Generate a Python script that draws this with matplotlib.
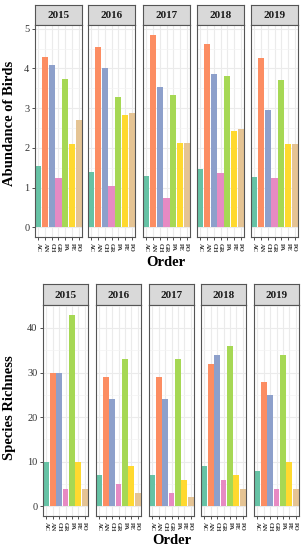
import matplotlib.pyplot as plt
from matplotlib.ticker import MultipleLocator

plt.rcParams['font.family'] = ['Liberation Serif', 'DejaVu Serif']

years = ['2015', '2016', '2017', '2018', '2019']
orders = ['AC', 'AN', 'CH', 'GR', 'PA', 'PE', 'PO']
colors = ['#66c2a5', '#fc8d62', '#8da0cb', '#e78ac3', '#a6d854', '#ffd92f', '#e5c494']

abundance = {
    '2015': [1.55, 4.28, 4.08, 1.25, 3.74, 2.11, 2.71],
    '2016': [1.40, 4.55, 4.00, 1.04, 3.29, 2.84, 2.88],
    '2017': [1.28, 4.85, 3.53, 0.73, 3.33, 2.13, 2.12],
    '2018': [1.46, 4.62, 3.85, 1.38, 3.80, 2.43, 2.48],
    '2019': [1.26, 4.27, 2.95, 1.25, 3.72, 2.11, 2.09],
}
richness = {
    '2015': [10, 30, 30, 4, 43, 10, 4],
    '2016': [7, 29, 24, 5, 33, 9, 3],
    '2017': [7, 29, 24, 3, 33, 6, 2],
    '2018': [9, 32, 34, 6, 36, 7, 4],
    '2019': [8, 28, 25, 4, 34, 10, 4],
}

W, H = 304, 550
fig = plt.figure(figsize=(W / 100, H / 100), dpi=100)


def px(x0, y0, w, h):
    # pixel box (top-left origin) -> figure fraction
    return [x0 / W, 1 - (y0 + h) / H, w / W, h / H]


def facet_row(data, lefts, width, top, strip_h, panel_h, ymax, major, minor, ylabel, ylab_y):
    axes = []
    for i, yr in enumerate(years):
        x0 = lefts[i]
        # strip
        sax = fig.add_axes(px(x0, top, width, strip_h))
        sax.set_facecolor('#d9d9d9')
        sax.set_xticks([])
        sax.set_yticks([])
        for s in sax.spines.values():
            s.set_color('#555555')
            s.set_linewidth(0.8)
        sax.text(0.5, 0.45, yr, ha='center', va='center', fontsize=8,
                 fontweight='bold', color='#1a1a1a', transform=sax.transAxes)

        ax = fig.add_axes(px(x0, top + strip_h, width, panel_h))
        ax.bar(range(len(orders)), data[yr], width=0.9, color=colors, zorder=2)
        ax.set_xlim(-0.5, len(orders) - 0.5)
        ax.set_ylim(-ymax * 0.05, ymax * 1.05)
        ax.yaxis.set_major_locator(MultipleLocator(major))
        ax.yaxis.set_minor_locator(MultipleLocator(minor))
        ax.set_xticks(range(len(orders)))
        ax.set_xticklabels(orders, rotation=270, fontsize=4.6, fontweight='bold',
                           color='#333333')
        ax.grid(True, which='major', color='#ebebeb', linewidth=0.8, zorder=0)
        ax.grid(True, which='minor', axis='y', color='#f3f3f3', linewidth=0.5, zorder=0)
        ax.tick_params(axis='both', which='major', length=2.5, width=0.6,
                       color='#333333', pad=1.5)
        ax.tick_params(axis='y', which='minor', length=0)
        for s in ax.spines.values():
            s.set_color('#555555')
            s.set_linewidth(0.8)
        if i == 0:
            ax.tick_params(axis='y', labelsize=7.5, labelcolor='#333333')
        else:
            ax.tick_params(axis='y', labelleft=False, length=0)
        axes.append(ax)
    fig.text(10 / W, 1 - ylab_y / H, ylabel, rotation=90, ha='center', va='center',
             fontsize=10.5, fontweight='bold')
    return axes


facet_row(abundance, [35, 88, 143, 197, 251], 47, 5, 20, 212, 4.85, 1, 0.5,
          'Abundance of Birds', 123)
fig.text(0.547, 1 - 262 / H, 'Order', ha='center', va='center', fontsize=10.5,
         fontweight='bold')

facet_row(richness, [43, 96, 149, 201, 254], 45, 284, 21, 211, 43, 10, 5,
          'Species Richness', 408)
fig.text(0.565, 1 - 541 / H, 'Order', ha='center', va='center', fontsize=10.5,
         fontweight='bold')

fig.savefig('out.png', dpi=100)
